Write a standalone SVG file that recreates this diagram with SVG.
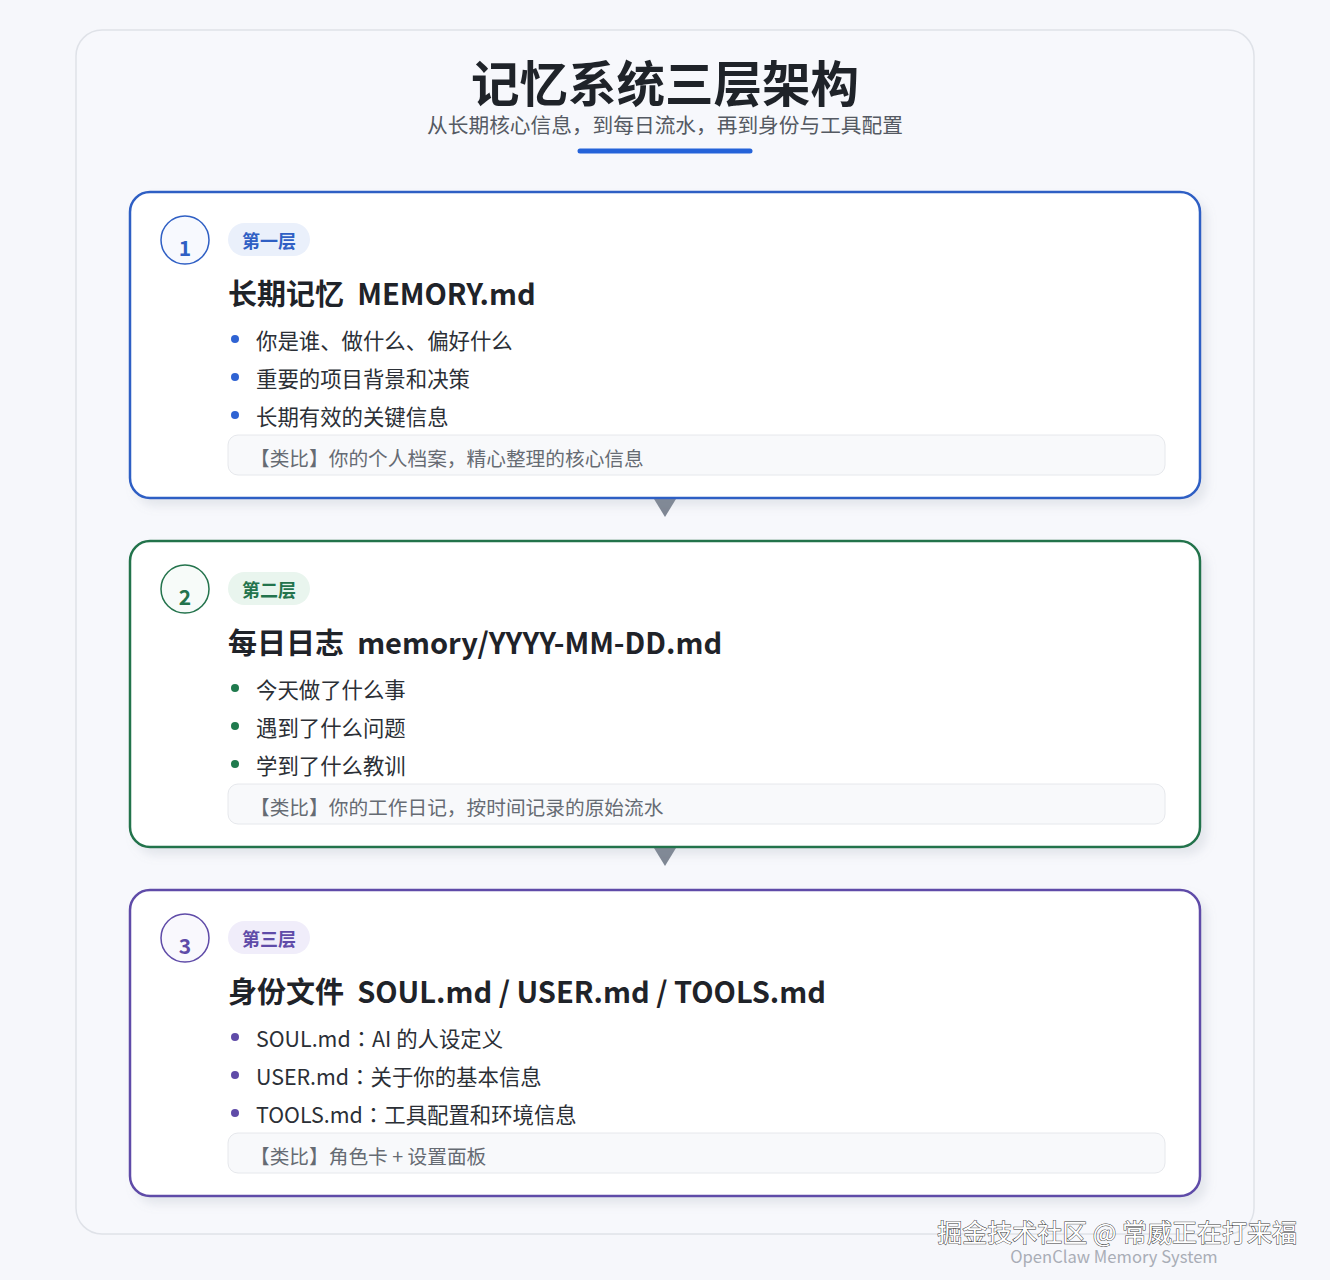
<svg xmlns="http://www.w3.org/2000/svg" width="1330" height="1280" viewBox="0 0 1330 1280">
<defs>
<style>
text{font-family:"Noto Sans CJK SC","Noto Sans",sans-serif}
.title{font-size:48.5px;font-weight:700;fill:#1f2329}
.sub{font-size:20.7px;fill:#555a63}
.h{font-size:29px;font-weight:700;fill:#1f2329}
.li{font-size:21.4px;fill:#2b2f36}
.an{font-size:19.7px;fill:#666b73}
.num{font-size:21px;font-weight:700}
.badge{font-size:18px;font-weight:700}
.card{fill:#ffffff;stroke-width:2.5}
.abox{fill:#f8f9fb;stroke:#e6e8ec;stroke-width:1}
.arrow{fill:#7f8794}
.tc{font-family:"Noto Sans CJK TC",sans-serif}
</style>
<filter id="sh" x="-5%" y="-10%" width="112%" height="125%">
<feDropShadow dx="6" dy="7" stdDeviation="5" flood-color="#8a94a6" flood-opacity="0.18"/>
</filter>
</defs>
<rect width="1330" height="1280" fill="#f6f7fb"/>
<rect x="76" y="30" width="1178" height="1204" rx="26" fill="#f7f8fc" stroke="#dfe2e8" stroke-width="1.5"/>
<g id="header">
<text class="title" x="665" y="102" text-anchor="middle">记忆系统三层架构</text>
<text class="sub" x="665" y="133" text-anchor="middle">从长期核心信息，到每日流水，再到身份与工具配置</text>
<line x1="580" y1="151" x2="750" y2="151" stroke="#2563d9" stroke-width="5" stroke-linecap="round"/>
</g>
<g id="connectors">
<polygon class="arrow" points="654,499 676,499 665,517"/>
<polygon class="arrow" points="654,848 676,848 665,866"/>
</g>
<g id="layer1">
<rect class="card" x="130" y="192" width="1070" height="306" rx="20" stroke="#2f5fc4" filter="url(#sh)"/>
<circle cx="185" cy="240" r="24" fill="#f7f9fe" stroke="#2f5fc4" stroke-width="1.5"/>
<text class="num" x="185" y="256" text-anchor="middle" fill="#2f5fc4">1</text>
<rect x="228" y="223" width="82" height="33" rx="16.5" fill="#eaf0fb"/>
<text class="badge" x="269" y="248" text-anchor="middle" fill="#2f5fc4">第一层</text>
<text class="h" x="228" y="305" xml:space="preserve">长期记忆  MEMORY.md</text>
<circle cx="235" cy="339" r="4" fill="#2f63d3"/>
<circle cx="235" cy="377" r="4" fill="#2f63d3"/>
<circle cx="235" cy="415" r="4" fill="#2f63d3"/>
<text class="li" x="256" y="349">你是谁、做什么、偏好什么</text>
<text class="li" x="256" y="387">重要的项目背景和决策</text>
<text class="li" x="256" y="425">长期有效的关键信息</text>
<rect class="abox" x="228" y="435" width="937" height="40" rx="10"/>
<text class="an" x="250" y="466">【类比】你的个人档案，精心整理的核心信息</text>
</g>
<g id="layer2">
<rect class="card" x="130" y="541" width="1070" height="306" rx="20" stroke="#23734c" filter="url(#sh)"/>
<circle cx="185" cy="589" r="24" fill="#f7fbf9" stroke="#23734c" stroke-width="1.5"/>
<text class="num" x="185" y="605" text-anchor="middle" fill="#23734c">2</text>
<rect x="228" y="572" width="82" height="33" rx="16.5" fill="#e9f5ee"/>
<text class="badge" x="269" y="597" text-anchor="middle" fill="#23734c">第二层</text>
<text class="h" x="228" y="654" xml:space="preserve">每日日志  memory/YYYY-MM-DD.md</text>
<circle cx="235" cy="688" r="4" fill="#1f7a4d"/>
<circle cx="235" cy="726" r="4" fill="#1f7a4d"/>
<circle cx="235" cy="764" r="4" fill="#1f7a4d"/>
<text class="li" x="256" y="698">今天做了什么事</text>
<text class="li" x="256" y="736">遇到了什么问题</text>
<text class="li" x="256" y="774">学到了什么教训</text>
<rect class="abox" x="228" y="784" width="937" height="40" rx="10"/>
<text class="an" x="250" y="815">【类比】你的工作日记，按时间记录的原始流水</text>
</g>
<g id="layer3">
<rect class="card" x="130" y="890" width="1070" height="306" rx="20" stroke="#5f4ba8" filter="url(#sh)"/>
<circle cx="185" cy="938" r="24" fill="#f9f8fd" stroke="#5f4ba8" stroke-width="1.5"/>
<text class="num" x="185" y="954" text-anchor="middle" fill="#5f4ba8">3</text>
<rect x="228" y="921" width="82" height="33" rx="16.5" fill="#f0edfa"/>
<text class="badge" x="269" y="946" text-anchor="middle" fill="#5f4ba8">第三层</text>
<text class="h" x="228" y="1003" xml:space="preserve">身份文件  SOUL.md / USER.md / TOOLS.md</text>
<circle cx="235" cy="1037" r="4" fill="#5f4ba8"/>
<circle cx="235" cy="1075" r="4" fill="#5f4ba8"/>
<circle cx="235" cy="1113" r="4" fill="#5f4ba8"/>
<text class="li" x="256" y="1047">SOUL.md<tspan class="tc">：</tspan>AI 的人设定义</text>
<text class="li" x="256" y="1085">USER.md<tspan class="tc">：</tspan>关于你的基本信息</text>
<text class="li" x="256" y="1123">TOOLS.md<tspan class="tc">：</tspan>工具配置和环境信息</text>
<rect class="abox" x="228" y="1133" width="937" height="40" rx="10"/>
<text class="an" x="250" y="1164">【类比】角色卡 + 设置面板</text>
</g>
<g id="watermark">
<text x="1297" y="1242" text-anchor="end" font-size="25" fill="#ffffff" stroke="#3a3a3a" stroke-width="1" paint-order="stroke">掘金技术社区 @ 常威正在打来福</text>
<text x="1114" y="1263" text-anchor="middle" font-size="16.6" fill="#a9adb6">OpenClaw Memory System</text>
</g>
</svg>
